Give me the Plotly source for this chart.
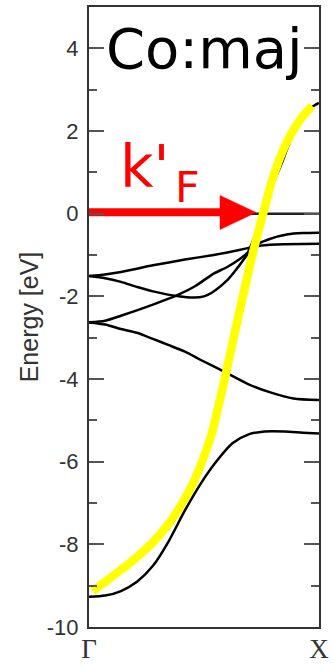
import plotly.graph_objects as go

# ---- data (k along Gamma-X normalised 0..1, energy in eV) ----
band_low_k = [0, 0.07, 0.139, 0.21, 0.278, 0.347, 0.417, 0.486, 0.556, 0.625, 0.694, 0.764, 0.85, 0.93, 1.0]
band_low_E = [-9.27, -9.24, -9.13, -8.90, -8.52, -7.92, -7.18, -6.53, -5.98, -5.55, -5.34, -5.27, -5.27, -5.30, -5.32]

band_down_k = [0, 0.07, 0.139, 0.208, 0.278, 0.347, 0.417, 0.486, 0.583, 0.694, 0.792, 0.889, 1.0]
band_down_E = [-2.63, -2.68, -2.79, -2.88, -3.03, -3.18, -3.34, -3.54, -3.81, -4.13, -4.33, -4.47, -4.51]

band_rise_k = [0, 0.07, 0.139, 0.278, 0.389, 0.4625, 0.542, 0.601, 0.657, 0.69, 0.72, 0.75, 0.78, 0.812, 0.84, 0.868, 0.90, 0.94, 0.97, 1.0]
band_rise_E = [-2.63, -2.59, -2.47, -2.20, -1.96, -1.75, -1.45, -1.29, -1.09, -0.94, -0.55, -0.05, 0.40, 0.875, 1.25, 1.66, 2.05, 2.40, 2.58, 2.68]

band_dip_k = [0, 0.07, 0.139, 0.208, 0.278, 0.389, 0.458, 0.50, 0.532, 0.601, 0.643, 0.685, 0.72, 0.7825, 0.865, 0.93, 1.0]
band_dip_E = [-1.51, -1.56, -1.65, -1.77, -1.88, -2.0, -2.03, -2.0, -1.92, -1.61, -1.33, -1.02, -0.78, -0.62, -0.50, -0.47, -0.46]

band_flat_k = [0, 0.07, 0.139, 0.278, 0.417, 0.542, 0.601, 0.685, 0.75, 0.85, 1.0]
band_flat_E = [-1.51, -1.47, -1.41, -1.25, -1.11, -1.00, -0.94, -0.84, -0.77, -0.74, -0.73]

fermi_k = [0, 1]
fermi_E = [0, 0]

sband_k = [0.017, 0.139, 0.21, 0.278, 0.347, 0.40, 0.45, 0.486, 0.51, 0.535, 0.56, 0.59, 0.639, 0.7125, 0.757, 0.8, 0.854, 0.893, 0.93, 0.97]
sband_E = [-9.13, -8.62, -8.30, -7.95, -7.50, -7.05, -6.55, -6.08, -5.72, -5.30, -4.72, -4.00, -2.75, -0.95, 0.0, 0.875, 1.66, 2.06, 2.36, 2.61]

arrow_shaft_k = [0, 0.575]
arrow_shaft_E = [0.035, 0.035]
arrow_head_k = [0.5696, 0.5696, 0.7264, 0.5696]
arrow_head_E = [0.44, -0.385, 0.03, 0.44]

y_tickvals = [-10, -8, -6, -4, -2, 0, 2, 4]
y_ticktext = ["-10", "-8", "-6", "-4", "-2", "0", "2", "4"]
x_tickvals = [0, 1]
x_ticktext = ["Γ", "X"]

fig = go.Figure()
for kk, ee in [(band_low_k, band_low_E), (band_down_k, band_down_E), (band_rise_k, band_rise_E),
               (band_dip_k, band_dip_E), (band_flat_k, band_flat_E)]:
    fig.add_trace(go.Scatter(x=kk, y=ee, mode="lines",
                             line=dict(color="black", width=2.5, shape="spline", smoothing=0.7),
                             hoverinfo="skip", showlegend=False))
fig.add_trace(go.Scatter(x=fermi_k, y=fermi_E, mode="lines", line=dict(color="#222", width=2.5),
                         showlegend=False, hoverinfo="skip"))
fig.add_trace(go.Scatter(x=sband_k, y=sband_E, mode="lines",
                         line=dict(color="#ffff00", width=8.5, shape="spline", smoothing=0.7),
                         showlegend=False, hoverinfo="skip"))
fig.add_trace(go.Scatter(x=arrow_shaft_k, y=arrow_shaft_E, mode="lines", line=dict(color="#ff0000", width=8),
                         showlegend=False, hoverinfo="skip"))
fig.add_trace(go.Scatter(x=arrow_head_k, y=arrow_head_E, mode="lines", fill="toself", fillcolor="#ff0000",
                         line=dict(color="#ff0000", width=0.5), showlegend=False, hoverinfo="skip"))

fig.add_annotation(x=0.504, y=4.0, xref="x", yref="y", text="Co:maj", showarrow=False,
                   font=dict(family="DejaVu Sans", size=56, color="black"), xanchor="center", yanchor="middle")
fig.add_annotation(x=0.363, y=1.14, xref="x", yref="y", text="k'", showarrow=False,
                   font=dict(family="DejaVu Sans", size=58, color="#ff0000"), xanchor="right", yanchor="middle")
fig.add_annotation(x=0.366, y=0.64, xref="x", yref="y", text="F", showarrow=False,
                   font=dict(family="DejaVu Sans", size=43, color="#ff0000"), xanchor="left", yanchor="middle")

axcol = "#333"
fig.update_layout(
    width=334, height=669,
    margin=dict(l=89, r=5, t=5, b=29),
    paper_bgcolor="white", plot_bgcolor="white",
    xaxis=dict(range=[0, 1], tickvals=x_tickvals, ticktext=x_ticktext, ticks="",
               showline=True, linewidth=2, linecolor=axcol, mirror=True, showgrid=False, zeroline=False,
               ticklabeloverflow="allow", ticklabelstandoff=-3,
               tickfont=dict(family="Liberation Serif", size=27, color="#333")),
    yaxis=dict(range=[-10, 5], tickvals=y_tickvals, ticktext=y_ticktext, ticks="inside", ticklen=15,
               tickwidth=2, tickcolor="#555", showline=True, linewidth=2, linecolor=axcol, mirror="ticks",
               showgrid=False, zeroline=False, ticklabelstandoff=4,
               tickfont=dict(family="Liberation Sans", size=22, color="#333"),
               minor=dict(ticks="inside", ticklen=8, tickwidth=2, tickcolor="#555", dtick=1, tick0=0, showgrid=False),
               title=dict(text="Energy [eV]", font=dict(family="Liberation Sans", size=25, color="#333"), standoff=1)),
)
fig.write_html("out.html")
